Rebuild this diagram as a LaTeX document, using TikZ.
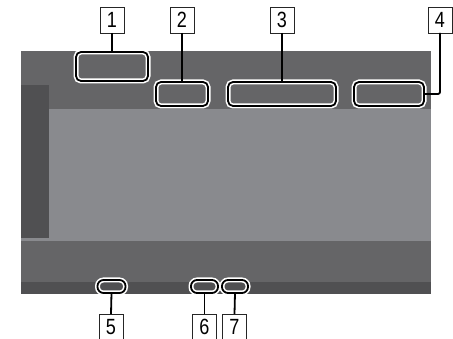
\documentclass[tikz,border=0pt]{standalone}
\usepackage{fontspec}
\newfontfamily\numfont[FakeStretch=0.82]{Liberation Sans}
\definecolor{bardark}{HTML}{656567}
\definecolor{arealight}{HTML}{898A8E}
\definecolor{stripdark}{HTML}{505052}
\tikzset{
  callout/.style={draw=black, line width=1.8pt, rounded corners=5pt, inner sep=0pt, outer sep=0pt,
    preaction={draw=white, line width=5pt}},
  pill/.style={callout, rounded corners=6pt},
  numlabel/.style={draw=black!85, line width=0.7pt, fill=white, minimum width=24pt, minimum height=26pt,
    inner sep=0pt, outer sep=0pt, font=\numfont\fontsize{22}{22}\selectfont},
  lead/.style={draw=black, line width=1.8pt}
}
\begin{document}
\begin{tikzpicture}[x=1pt,y=-1pt]
\useasboundingbox (0,0) rectangle (453,339);
% screen
\fill[bardark] (21,51) rectangle (431,294);
\fill[arealight] (49,109) rectangle (431,241);
\fill[arealight] (21,236) rectangle (49,241);
\fill[stripdark] (21,85) rectangle (49,238);
\fill[stripdark] (21,282) rectangle (431,294);
% callouts
\node[callout, minimum width=72pt, minimum height=29pt] (c1) at (112,66.5) {};
\node[callout, minimum width=52pt, minimum height=24pt] (c2) at (182,94) {};
\node[callout, minimum width=108pt, minimum height=24pt] (c3) at (282,94) {};
\node[callout, minimum width=70pt, minimum height=24pt] (c4) at (389,94) {};
\node[pill, minimum width=28pt, minimum height=13pt] (c5) at (111.5,286.5) {};
\node[pill, minimum width=27pt, minimum height=13pt] (c6) at (204.5,286.5) {};
\node[pill, minimum width=26pt, minimum height=13pt] (c7) at (235,286.5) {};
% labels
\node[numlabel] (l1) at (112,20) {1};
\node[numlabel] (l2) at (182,20) {2};
\node[numlabel] (l3) at (282,20) {3};
\node[numlabel] (l4) at (440,20) {4};
\node[numlabel] (l5) at (111,327) {5};
\node[numlabel] (l6) at (204.5,327) {6};
\node[numlabel] (l7) at (234.5,327) {7};
% leads
\draw[lead] (l1.south) -- (c1.north);
\draw[lead] (l2.south) -- (c2.north);
\draw[lead] (l3.south) -- (c3.north);
\draw[lead, rounded corners=2pt] (c4.east) -| (l4.south);
\draw[lead] (c5.south) -- (l5.north);
\draw[lead] (c6.south) -- (l6.north);
\draw[lead] (c7.south) -- (l7.north);
\end{tikzpicture}
\end{document}
